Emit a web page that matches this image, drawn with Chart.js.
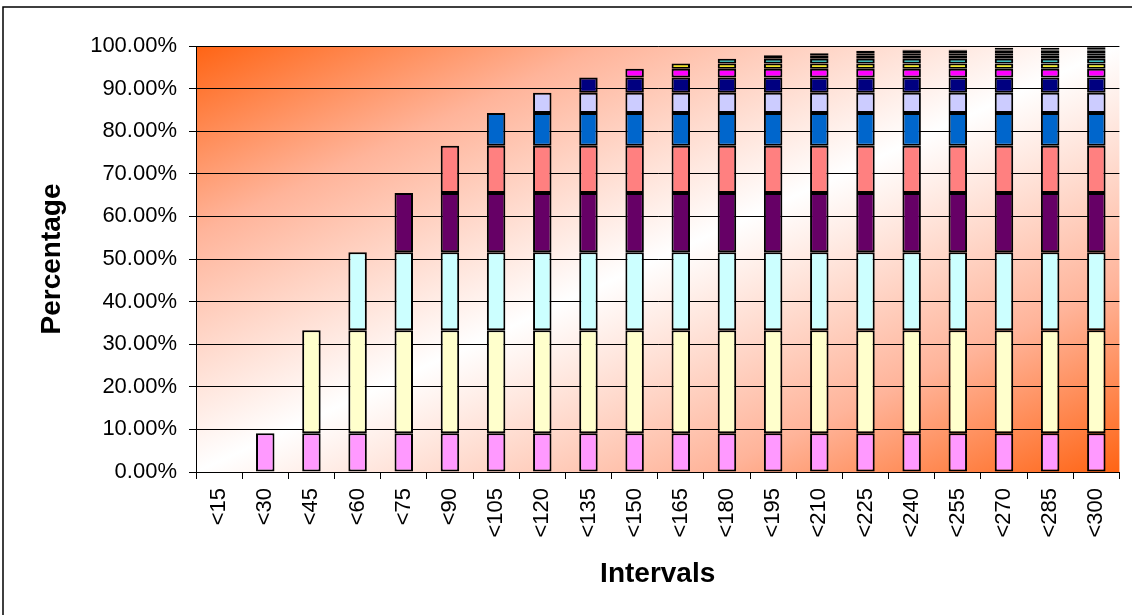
<!DOCTYPE html>
<html>
<head>
<meta charset="utf-8">
<script src="https://cdn.jsdelivr.net/npm/chart.js@4"></script>
<style>
  html, body { margin: 0; padding: 0; background: #fff; }
  #wrap { width: 1132px; height: 615px; }
</style>
</head>
<body>
<div id="wrap"><canvas id="interval-chart" width="1132" height="615"></canvas></div>
<script>
const intervals = ['<15', '<30', '<45', '<60', '<75', '<90', '<105', '<120', '<135', '<150',
  '<165', '<180', '<195', '<210', '<225', '<240', '<255', '<270', '<285', '<300'];

// share (%) added by each group, and the interval where it first shows up
const groupShare = [9.1, 24.2, 18.3, 13.9, 11.1, 7.7, 4.7, 3.6, 2.05, 1.25, 1.1, 0.8, 0.5, 0.6, 0.2, 0, 0.5, 0, 0.4];
const groupStart = [1, 2, 3, 4, 5, 6, 7, 8, 9, 10, 11, 12, 13, 14, 15, 16, 17, 18, 19];
const groupColors = ['#FF99FF', '#FFFFCC', '#CCFFFF', '#660066', '#FF8080', '#0066CC', '#CCCCFF',
  '#000080', '#FF00FF', '#FFFF00', '#00FFFF', '#800080', '#111111', '#1a0000', '#001a1a',
  '#00001a', '#111111', '#1a001a', '#111111'];

const yTicks = [0, 10, 20, 30, 40, 50, 60, 70, 80, 90, 100];

const datasets = groupShare.map((v, i) => ({
  label: 'G' + (i + 1),
  data: intervals.map((_, c) => (c >= groupStart[i] ? v : null)),
  backgroundColor: groupColors[i],
  borderColor: '#000',
  borderWidth: 2,
  borderSkipped: false,
  barPercentage: 0.4,
  categoryPercentage: 1.0
}));

// plot area fill + outer frame
const backdrop = {
  id: 'backdrop',
  beforeDraw(chart) {
    const { ctx, chartArea: a } = chart;
    ctx.save();
    ctx.fillStyle = '#fff';
    ctx.fillRect(0, 0, chart.width, chart.height);
    ctx.translate(a.left, a.top);
    ctx.scale(a.right - a.left, a.bottom - a.top);
    const g = ctx.createLinearGradient(0, 0, 1, 1);
    g.addColorStop(0, '#FF6414');
    g.addColorStop(0.22, '#FFB49A');
    g.addColorStop(0.5, '#FFFFFF');
    g.addColorStop(0.78, '#FFB49A');
    g.addColorStop(1, '#FF6414');
    ctx.fillStyle = g;
    ctx.fillRect(0, 0, 1, 1);
    ctx.restore();

    ctx.save();
    ctx.strokeStyle = '#000';
    ctx.lineWidth = 1.5;
    ctx.beginPath();
    ctx.moveTo(3, chart.height);
    ctx.lineTo(3, 7);
    ctx.lineTo(chart.width, 7);
    ctx.stroke();
    ctx.restore();
  }
};

Chart.defaults.font.family = '"Liberation Sans", Arial, sans-serif';
Chart.defaults.color = '#000';

new Chart(document.getElementById('interval-chart'), {
  type: 'bar',
  data: { labels: intervals, datasets: datasets },
  options: {
    responsive: false,
    animation: false,
    layout: { padding: { top: 46, right: 11, left: 0, bottom: 0 } },
    plugins: {
      legend: { display: false },
      tooltip: { enabled: false }
    },
    scales: {
      x: {
        stacked: true,
        afterFit(scale) { scale.height = 143; },
        grid: {
          drawOnChartArea: false,
          drawTicks: true,
          tickLength: 7,
          color: '#000',
          offset: true
        },
        border: { color: '#000', width: 1 },
        ticks: {
          font: { size: 22 },
          maxRotation: 90,
          minRotation: 90,
          padding: 9,
          autoSkip: false
        },
        title: {
          display: true,
          text: 'Intervals',
          font: { size: 28, weight: 'bold' },
          padding: { top: 0, bottom: 24 }
        }
      },
      y: {
        stacked: true,
        min: 0,
        max: 100,
        afterFit(scale) { scale.width = 196; },
        afterBuildTicks(scale) { scale.ticks = yTicks.map(v => ({ value: v })); },
        grid: {
          color: '#000',
          lineWidth: 1,
          tickLength: 7
        },
        border: { color: '#000', width: 1 },
        ticks: {
          font: { size: 22 },
          padding: 12,
          callback: v => v.toFixed(2) + '%'
        },
        title: {
          display: true,
          text: 'Percentage',
          font: { size: 28, weight: 'bold' },
          padding: { top: 35, bottom: 0 }
        }
      }
    }
  },
  plugins: [backdrop]
});
</script>
</body>
</html>
